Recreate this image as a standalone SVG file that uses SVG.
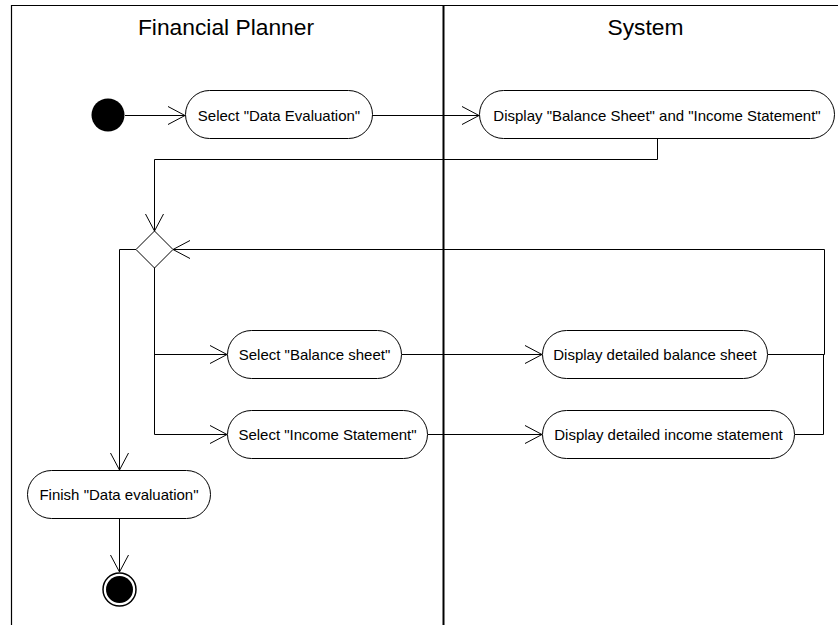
<svg xmlns="http://www.w3.org/2000/svg" width="838" height="625" viewBox="0 0 838 625">
  <style>
    .lane { fill: none; stroke: #000; stroke-width: 1.2; }
    .divider { fill: none; stroke: #000; stroke-width: 2; }
    .title { font-family: "Liberation Sans", Arial, sans-serif; font-size: 22.8px; fill: #000; text-anchor: middle; }
    .act rect { fill: #fff; stroke: #000; stroke-width: 1; }
    .act text { font-family: "Liberation Sans", Arial, sans-serif; font-size: 15px; fill: #000; text-anchor: middle; }
    .flow { fill: none; stroke: #000; stroke-width: 1; }
    .arrow { marker-end: url(#open); }
  </style>
  <defs>
    <marker id="open" markerUnits="userSpaceOnUse" markerWidth="20" markerHeight="22" viewBox="-18 -10 20 20" refX="0" refY="0" orient="auto">
      <path d="M-17,-9 L0,0 L-17,9" fill="none" stroke="#000" stroke-width="1"/>
    </marker>
  </defs>

  <rect width="838" height="625" fill="#fff"/>

  <!-- swimlanes -->
  <g id="lanes">
    <path class="lane" d="M11.5,625 V5.5 H838"/>
    <path class="divider" d="M443.5,5 V625"/>
    <text class="title" x="226" y="35">Financial Planner</text>
    <text class="title" x="645.5" y="35">System</text>
  </g>

  <!-- connectors -->
  <g id="connectors">
    <path class="flow arrow" d="M125,115.5 H185"/>
    <path class="flow arrow" d="M372,115.5 H479"/>
    <path class="flow arrow" d="M657.5,138 V159.5 H154.5 V231"/>
    <path class="flow arrow" d="M154.5,267 V354.5 H227"/>
    <path class="flow arrow" d="M154.5,354 V434.5 H227"/>
    <path class="flow arrow" d="M136,249.5 H119.5 V470"/>
    <path class="flow arrow" d="M402,354.5 H542"/>
    <path class="flow arrow" d="M428,434.5 H542"/>
    <path class="flow arrow" d="M768,354.5 H824.5 V249.5 H173"/>
    <path class="flow" d="M795,434.5 H823.5 V354"/>
    <path class="flow arrow" d="M119.5,519 V572"/>
  </g>

  <!-- initial node -->
  <g id="start">
    <circle cx="108" cy="115" r="16.5" fill="#000"/>
  </g>

  <g id="select-data-evaluation" class="act">
    <rect x="185.5" y="90.5" width="187" height="48" rx="24"/>
    <text x="279" y="120.5">Select "Data Evaluation"</text>
  </g>

  <g id="display-statements" class="act">
    <rect x="479.5" y="90.5" width="355" height="48" rx="24"/>
    <text x="657" y="120.5">Display "Balance Sheet" and "Income Statement"</text>
  </g>

  <!-- decision -->
  <g id="decision">
    <path d="M154.5,231 L173,249.5 L154.5,268 L136,249.5 Z" fill="#fff" stroke="#000" stroke-width="1"/>
  </g>

  <g id="select-balance-sheet" class="act">
    <rect x="227.5" y="330.5" width="174" height="48" rx="24"/>
    <text x="314.5" y="359.5">Select "Balance sheet"</text>
  </g>

  <g id="select-income-statement" class="act">
    <rect x="227.5" y="410.5" width="200" height="48" rx="24"/>
    <text x="327.5" y="439.5">Select "Income Statement"</text>
  </g>

  <g id="display-balance-sheet" class="act">
    <rect x="542.5" y="330.5" width="225" height="48" rx="24"/>
    <text x="655" y="359.5">Display detailed balance sheet</text>
  </g>

  <g id="display-income-statement" class="act">
    <rect x="542.5" y="410.5" width="252" height="48" rx="24"/>
    <text x="668.5" y="439.5">Display detailed income statement</text>
  </g>

  <g id="finish-data-evaluation" class="act">
    <rect x="27.5" y="470.5" width="183" height="48" rx="24"/>
    <text x="119" y="499.5">Finish "Data evaluation"</text>
  </g>

  <!-- final node -->
  <g id="end">
    <circle cx="119.5" cy="589.5" r="16.5" fill="#fff" stroke="#000" stroke-width="1.5"/>
    <circle cx="119.5" cy="589.5" r="13.5" fill="#000"/>
  </g>
</svg>
